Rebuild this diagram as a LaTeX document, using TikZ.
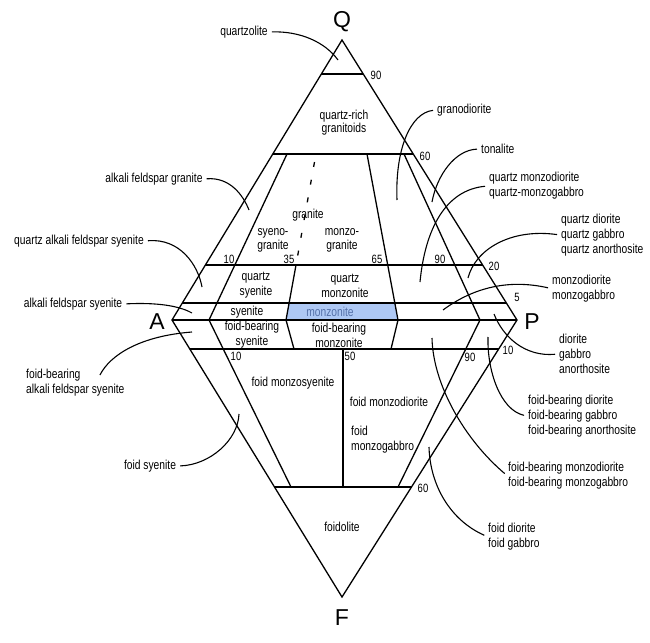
\documentclass[tikz,border=0pt]{standalone}
\usepackage{fontspec}
\setmainfont{Liberation Sans}[FakeStretch=0.79]
\newfontfamily\apexfont{Liberation Sans}
\definecolor{boxblue}{HTML}{AEC8F4}
\definecolor{textblue}{HTML}{5470A8}
\begin{document}
\begin{tikzpicture}[x=1pt,y=-1pt]
\tikzstyle{Label} = [inner sep=1pt, font=\fontsize{13}{15}\selectfont, align=center]
\tikzstyle{Side} = [Label, anchor=west, align=left]
\tikzstyle{Num} = [inner sep=0pt, font=\fontsize{12}{13}\selectfont]
\tikzstyle{Apex} = [inner sep=0pt, font=\apexfont\fontsize{23}{23}\selectfont]
\tikzstyle{Edge} = [line width=1.3pt]
\tikzstyle{Rule} = [line width=1.8pt]
\tikzstyle{Leader} = [line width=1.1pt, shorten <=3pt]
\useasboundingbox (0,0) rectangle (650,642);

\coordinate (Q) at (342,40);
\coordinate (A) at (172,320);
\coordinate (P) at (517,320);
\coordinate (F) at (342,597);

\fill[boxblue] (289,303) -- (395,303) -- (398,320) -- (286,320) -- cycle;

\draw[Rule] (321.4,74) -- (363.3,74);
\draw[Rule] (272.8,154) -- (413.2,154);
\draw[Rule] (205.4,265) -- (482.6,265);
\draw[Rule] (182.3,303) -- (506.4,303);
\draw[Rule] (A) -- (P);
\draw[Rule] (189.8,349) -- (498.7,349);
\draw[Rule] (274.5,487) -- (411.5,487);

\draw[Edge] (Q) -- (P) -- (F) -- (A) -- cycle;
\draw[Edge] (287,154) -- (209,320) -- (291,487);
\draw[Edge] (404,154) -- (480,320) -- (398,487);
\draw[Edge] (296,265) -- (286,320) -- (294,349);
\draw[Edge] (367,154) -- (398,320) -- (391,349);
\draw[Edge] (343,349) -- (343,487);
\draw[Edge, dash pattern=on 5pt off 13pt] (314.5,162) -- (296,265);

\node (qa) at (342,22) [Apex] {Q};
\node (aa) at (157,322) [Apex] {A};
\node (pa) at (532,322) [Apex] {P};
\node (fa) at (342,618) [Apex] {F};

\node (n1) at (376,75) [Num] {90};
\node (n2) at (425,156) [Num] {60};
\node (n3) at (229,259) [Num] {10};
\node (n4) at (289,259) [Num] {35};
\node (n5) at (377,259) [Num] {65};
\node (n6) at (440,259) [Num] {90};
\node (n7) at (494,266) [Num] {20};
\node (n8) at (517,297) [Num] {5};
\node (n9) at (236,356) [Num] {10};
\node (n10) at (350,356) [Num] {50};
\node (n11) at (470,357) [Num] {90};
\node (n12) at (508,350) [Num] {10};
\node (n13) at (423,488) [Num] {60};

\node (qrg) at (344,123) [Label, font=\fontsize{13}{13}\selectfont] {quartz-rich\\granitoids};
\node (sg) at (273,240) [Label, font=\fontsize{13}{14}\selectfont] {syeno-\\granite};
\node (gr) at (308,215) [Label] {granite};
\node (mg) at (342,240) [Label, font=\fontsize{13}{14}\selectfont] {monzo-\\granite};
\node (qs) at (256,285.5) [Label] {quartz\\syenite};
\node (qm) at (345,285.5) [Label] {quartz\\monzonite};
\node (sy) at (247,312) [Label] {syenite};
\node (mz) at (330,312) [Label, text=textblue] {monzonite};
\node (fbs) at (252,335) [Label] {foid-bearing\\syenite};
\node (fbm) at (339,335) [Label] {foid-bearing\\monzonite};
\node (fms) at (293,383) [Label] {foid monzosyenite};
\node (fmd) at (389,402) [Label] {foid monzodiorite};
\node (fmg) at (350,439.5) [Side] {foid\\monzogabbro};
\node (fo) at (342,527) [Label] {foidolite};

\node (qz) at (244,32) [Label] {quartzolite};
\node (afg) at (154,179) [Label] {alkali feldspar granite};
\node (qafs) at (79,241) [Label] {quartz alkali feldspar syenite};
\node (afs) at (73,304) [Label] {alkali feldspar syenite};
\node (fbafs) at (25,382.5) [Side] {foid-bearing\\alkali feldspar syenite};
\node (fs) at (150,466) [Label] {foid syenite};

\node (gd) at (436,110) [Side] {granodiorite};
\node (to) at (480,149) [Side] {tonalite};
\node (qmd) at (488,186) [Side] {quartz monzodiorite\\quartz-monzogabbro};
\node (qd) at (560,235) [Side] {quartz diorite\\quartz gabbro\\quartz anorthosite};
\node (md) at (551,288.5) [Side] {monzodiorite\\monzogabbro};
\node (di) at (558,354) [Side] {diorite\\gabbro\\anorthosite};
\node (fbd) at (527,416) [Side] {foid-bearing diorite\\foid-bearing gabbro\\foid-bearing anorthosite};
\node (fbmd) at (507,475.5) [Side] {foid-bearing monzodiorite\\foid-bearing monzogabbro};
\node (fd) at (487,536.5) [Side] {foid diorite\\foid gabbro};

\coordinate (e1) at (338,60);
\coordinate (e2) at (249,210);
\coordinate (e3) at (202,287);
\coordinate (e4) at (192,313);
\coordinate (e5) at (192,332);
\coordinate (e6) at (239,414);
\coordinate (e7) at (397,200);
\coordinate (e8) at (432,202);
\coordinate (e9) at (420,282);
\coordinate (e10) at (468,278);
\coordinate (e11) at (443,310);
\coordinate (e12) at (494,314);
\coordinate (e13) at (488,337);
\coordinate (e14) at (432,338);
\coordinate (e15) at (429,447);

\draw[Leader] (qz.east) .. controls (300,31) and (325,42) .. (e1);
\draw[Leader] (afg.east) .. controls (230,177) and (243,195) .. (e2);
\draw[Leader] (qafs.east) .. controls (180,238) and (198,265) .. (e3);
\draw[Leader] (afs.east) .. controls (165,302) and (183,308) .. (e4);
\draw[Leader] ([xshift=-27pt,yshift=-10pt]fbafs.north east) .. controls (110,355) and (140,336) .. (e5);
\draw[Leader] (fs.east) .. controls (210,465) and (238,440) .. (e6);
\draw[Leader] (gd.west) .. controls (410,113) and (395,150) .. (e7);
\draw[Leader] (to.west) .. controls (455,150) and (437,175) .. (e8);
\draw[Leader] (qmd.west) .. controls (445,190) and (425,230) .. (e9);
\draw[Leader] (qd.west) .. controls (510,228) and (475,250) .. (e10);
\draw[Leader] (md.west) .. controls (505,278) and (470,290) .. (e11);
\draw[Leader] (di.west) .. controls (525,357) and (503,337) .. (e12);
\draw[Leader] (fbd.west) .. controls (500,410) and (487,370) .. (e13);
\draw[Leader] (fbmd.west) .. controls (465,440) and (433,385) .. (e14);
\draw[Leader] (fd.west) .. controls (450,520) and (430,485) .. (e15);
\end{tikzpicture}
\end{document}
